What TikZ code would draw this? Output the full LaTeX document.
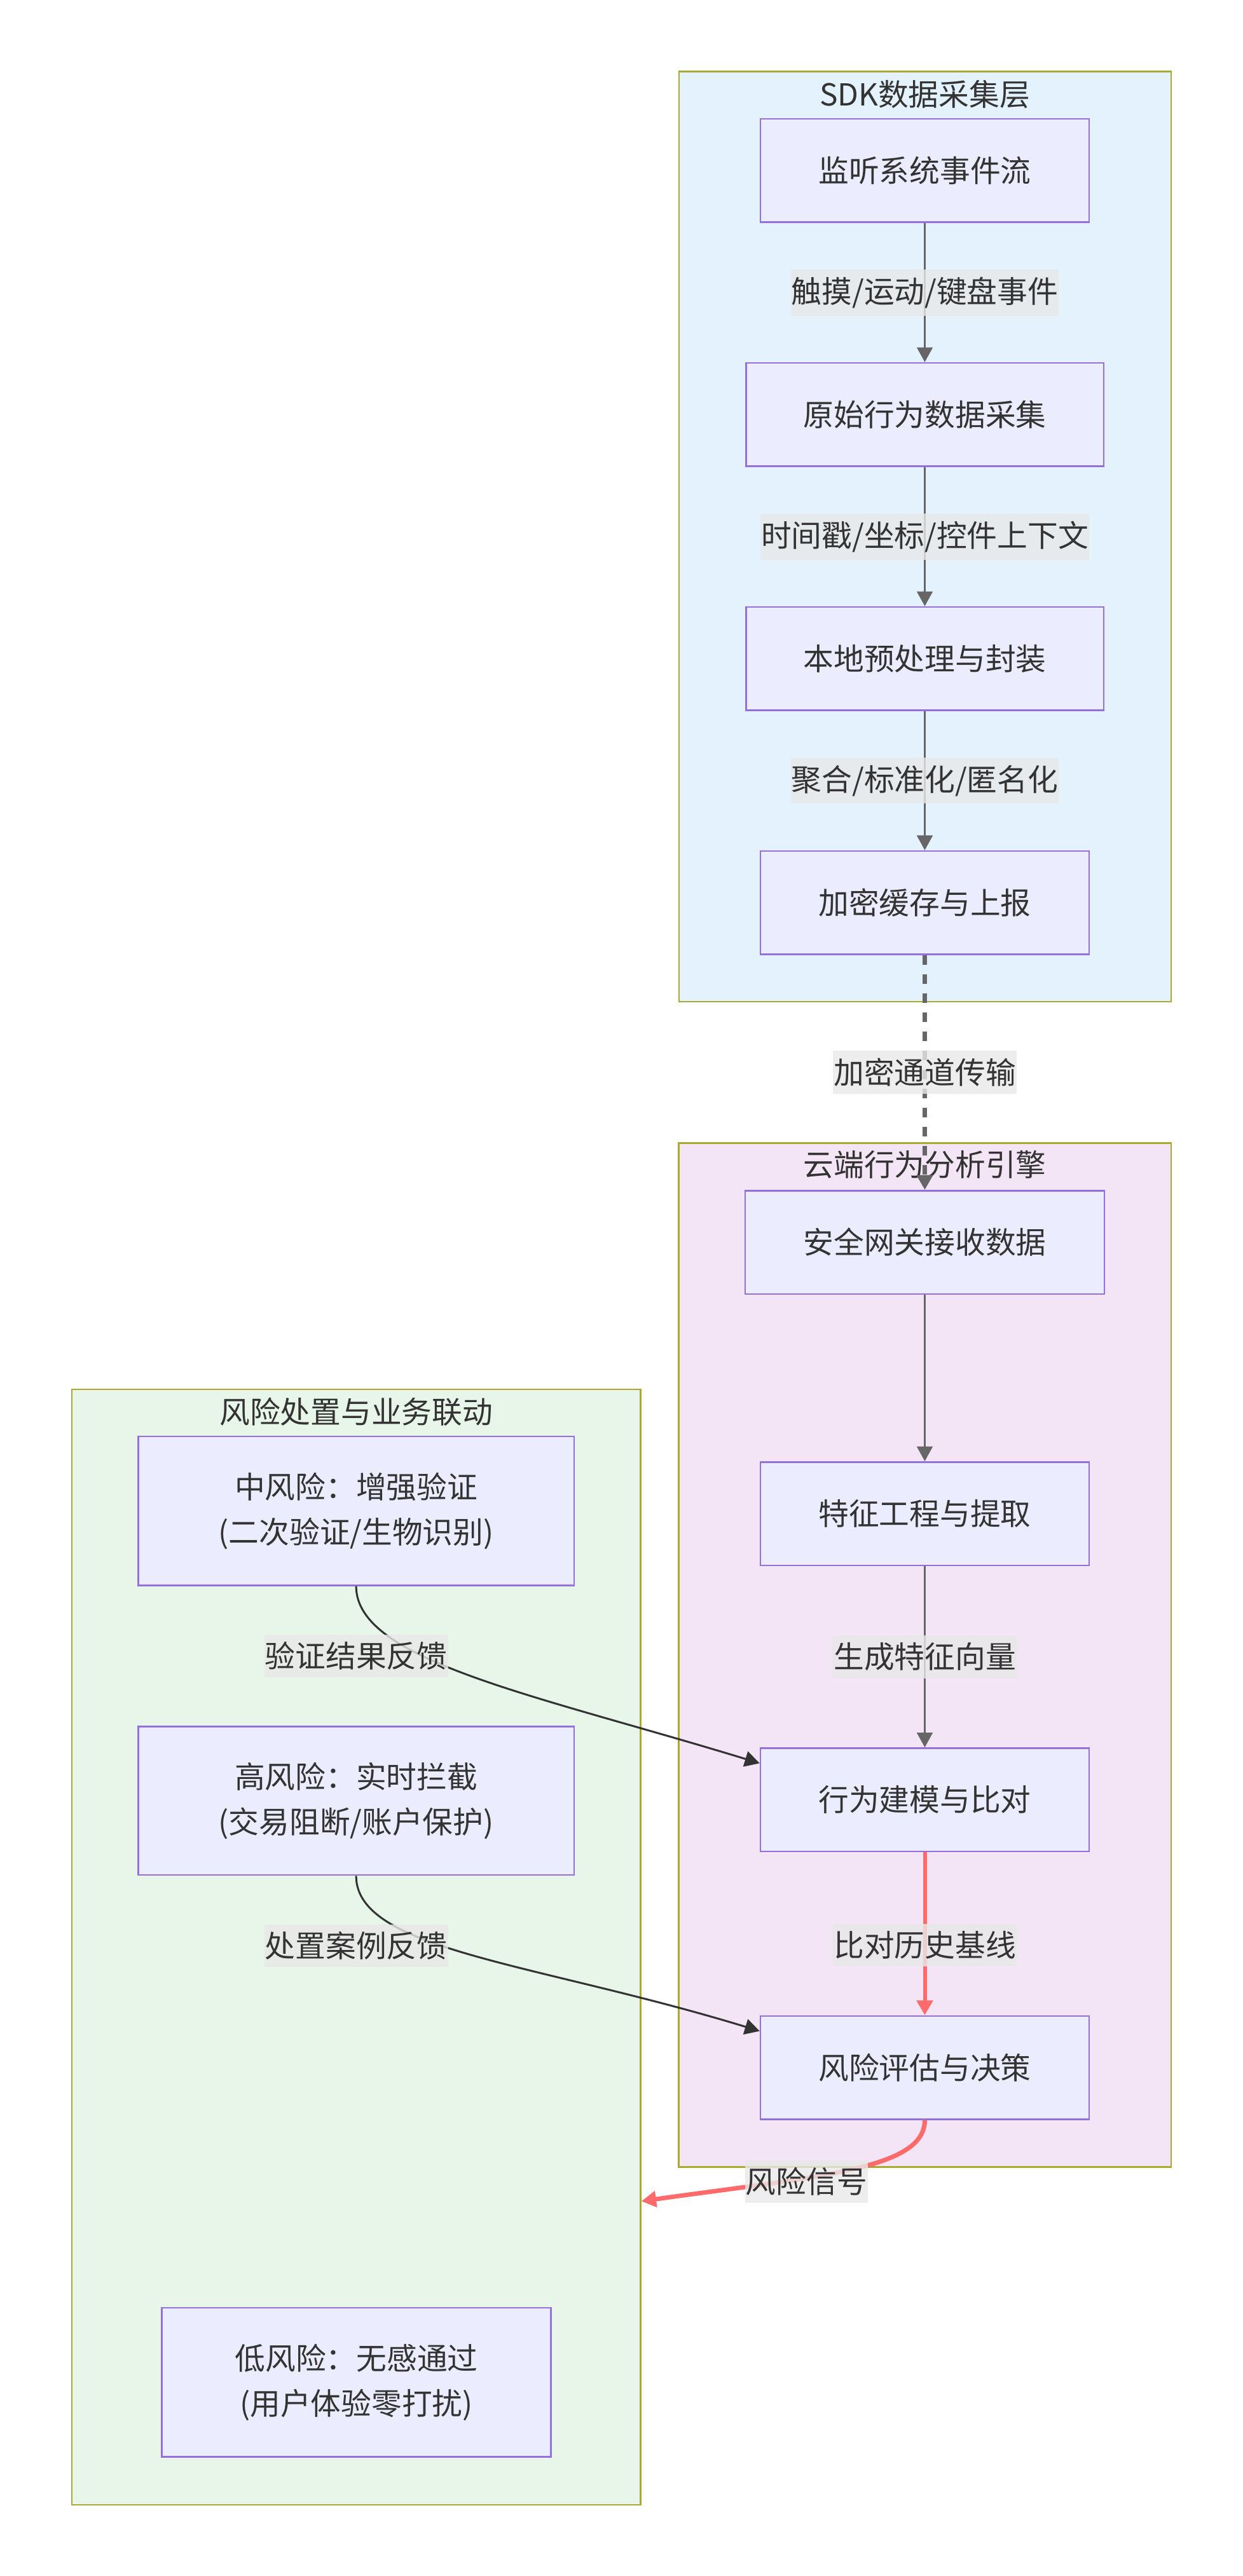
\documentclass[tikz,border=0pt]{standalone}
\usepackage{fontspec}
\setmainfont{Noto Sans CJK SC}
\usepackage{tikz}
\usetikzlibrary{arrows.meta}

\definecolor{boxfill}{HTML}{ECECFF}
\definecolor{boxline}{HTML}{9370DB}
\definecolor{ink}{HTML}{333333}
\definecolor{sdkfill}{HTML}{E3F2FD}
\definecolor{cloudfill}{HTML}{F3E5F5}
\definecolor{riskfill}{HTML}{E8F5E9}
\definecolor{laneline}{HTML}{AAAA33}
\definecolor{flowgray}{HTML}{666666}
\definecolor{alarmred}{HTML}{FF6B6B}

\tikzset{basic/.style={draw=boxline,fill=boxfill,line width=1pt,
                       text=ink,align=center,inner sep=0pt}}
\tikzset{proc/.style={basic,minimum height=65pt}}
\tikzset{lane/.style={draw=laneline,line width=1pt,inner sep=0pt}}
\def\colx{581.8}

\begin{document}
\begin{tikzpicture}[x=1pt,y=1pt,font=\fontsize{19.1pt}{28.6pt}\selectfont,
    >={Triangle[length=9.3pt,width=9.9pt]}]
    \tikzstyle{flow}=[flowgray,line width=1.2pt,->]
    \tikzstyle{alarm}=[alarmred,line width=2.4pt,->]
    \tikzstyle{back}=[ink,line width=1.2pt,->]
    \tikzstyle{annot}=[fill=black!9,fill opacity=0.8,text opacity=1,text=ink,
                       inner xsep=0.5pt,inner ysep=4.7pt]
    \tikzstyle{title}=[text=ink,inner sep=0pt]

    \useasboundingbox (0,0) rectangle (781.6,-1621.2);

    % Draw the three lanes
    \node[lane,fill=sdkfill,minimum width=309.7pt,minimum height=585.3pt] (sdk) at (581.95,-337.75) {};
    \node[lane,fill=cloudfill,minimum width=309.8pt,minimum height=644.3pt] (cloud) at (581.9,-1041.55) {};
    \node[lane,fill=riskfill,minimum width=357.9pt,minimum height=702pt] (risk) at (224.05,-1225.3) {};
    \node[title] (sdk-t) at (\colx,-59.3) {SDK数据采集层};
    \node[title] (cloud-t) at (\colx,-733) {云端行为分析引擎};
    \node[title] (risk-t) at (224.05,-888.6) {风险处置与业务联动};

    % Draw the SDK steps
    \foreach \name / \y / \w / \txt in {n1/107.3/206.8/监听系统事件流,
                                        n2/260.9/225/原始行为数据采集,
                                        n3/414.5/225/本地预处理与封装,
                                        n4/568.05/206.8/加密缓存与上报}
        \node[proc,minimum width=\w pt] (\name) at (\colx,-\y) {\txt};

    % Draw the cloud steps
    \foreach \name / \y / \w / \txt in {c1/781.8/225.9/安全网关接收数据,
                                        c2/952.6/206.8/特征工程与提取,
                                        c3/1132.7/206.8/行为建模与比对,
                                        c4/1301.25/206.8/风险评估与决策}
        \node[proc,minimum width=\w pt] (\name) at (\colx,-\y) {\txt};

    % Draw the risk responses
    \node[basic,minimum width=274.3pt,minimum height=93.7pt] (r1) at (224.05,-950.9)
        {中风险：增强验证\\(二次验证/生物识别)};
    \node[basic,minimum width=274.3pt,minimum height=93.5pt] (r2) at (224.05,-1133.3)
        {高风险：实时拦截\\(交易阻断/账户保护)};
    \node[basic,minimum width=244.9pt,minimum height=93.9pt] (r3) at (224.2,-1499.3)
        {低风险：无感通过\\(用户体验零打扰)};

    % Connect the SDK steps
    \draw[flow] (n1) -- node[annot] {触摸/运动/键盘事件} (n2);
    \draw[flow] (n2) -- node[annot] {时间戳/坐标/控件上下文} (n3);
    \draw[flow] (n3) -- node[annot] {聚合/标准化/匿名化} (n4);
    \draw[flow,line width=2.6pt,dash pattern=on 6pt off 6pt] (n4) -- node[annot] {加密通道传输} (c1);

    % Connect the cloud steps
    \draw[flow] (c1) -- (c2);
    \draw[flow] (c2) -- node[annot] {生成特征向量} (c3);
    \draw[alarm] (c3) -- node[annot,pos=0.57] {比对历史基线} (c4);
    \draw[alarm,line width=2.8pt] (c4.south) to[out=-90,in=8,out distance=31pt,in distance=113pt]
        ([yshift=-160pt]risk.east);
    \node[annot] (sig) at (507.3,-1373) {风险信号};

    % Feed the results back
    \draw[back] (r1.south) to[out=-90,in=163,out distance=47pt,in distance=148pt]
        ([yshift=-10pt]c3.north west);
    \node[annot] (fb1) at (224.05,-1042.2) {验证结果反馈};
    \draw[back] (r2.south) to[out=-90,in=163,out distance=47pt,in distance=148pt]
        ([yshift=-10pt]c4.north west);
    \node[annot] (fb2) at (224.05,-1224.6) {处置案例反馈};
\end{tikzpicture}
\end{document}
